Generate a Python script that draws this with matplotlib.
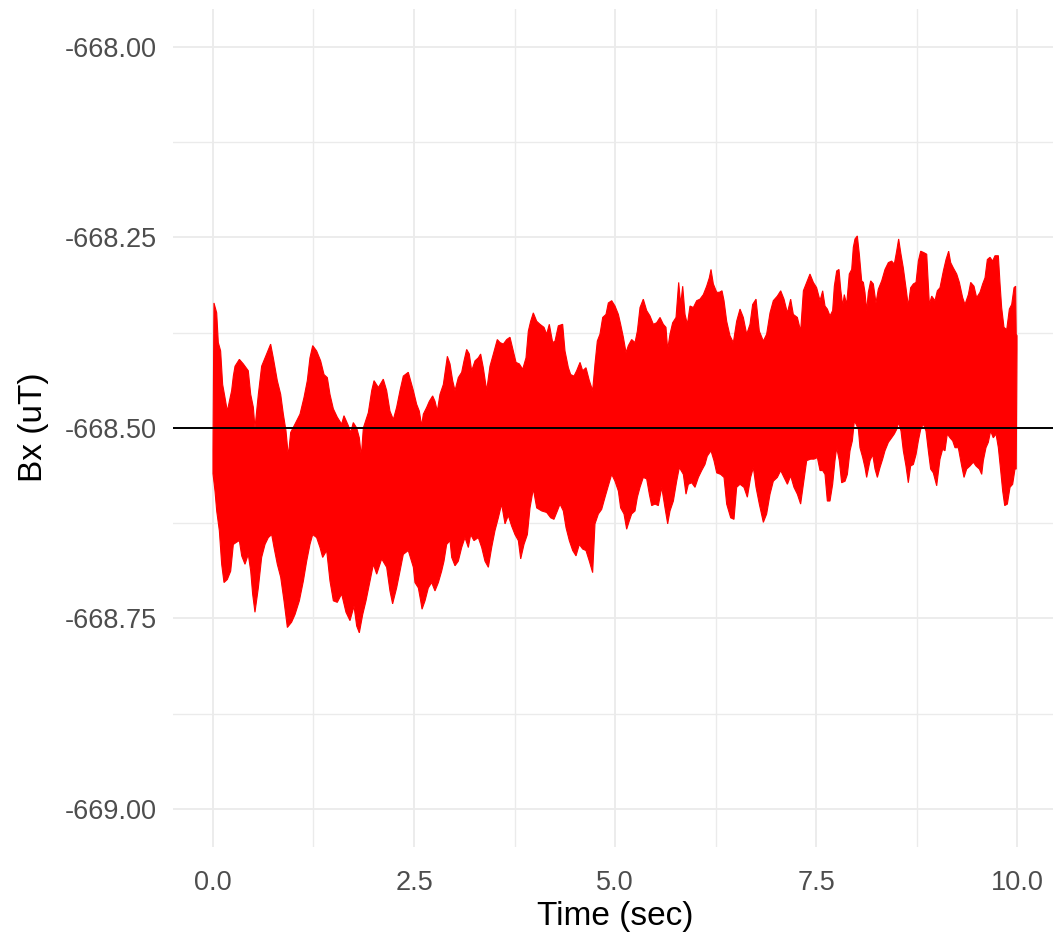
"""
plot.py
-------
Bx magnetometer trace over a 10 s window, drawn as the band between the
upper and lower envelope of the (dense) signal, with the -668.50 uT
reference level on top. ggplot2 theme_minimal look.
"""

import matplotlib
matplotlib.use("Agg")
import matplotlib.pyplot as plt
from matplotlib.ticker import FormatStrFormatter

UPPER_ENVELOPE = [
    (0.000, -668.530), (0.012, -668.336), (0.046, -668.349), (0.066, -668.388),
    (0.095, -668.399), (0.120, -668.443), (0.149, -668.460), (0.178, -668.478),
    (0.232, -668.451), (0.253, -668.432), (0.274, -668.419), (0.328, -668.410),
    (0.377, -668.416), (0.439, -668.425), (0.469, -668.456), (0.502, -668.473),
    (0.522, -668.500), (0.564, -668.456), (0.605, -668.419), (0.667, -668.403),
    (0.717, -668.390), (0.750, -668.408), (0.800, -668.438), (0.842, -668.456),
    (0.875, -668.482), (0.908, -668.504), (0.937, -668.537), (0.966, -668.506),
    (1.020, -668.495), (1.082, -668.482), (1.132, -668.460), (1.173, -668.438),
    (1.206, -668.408), (1.240, -668.392), (1.289, -668.399), (1.339, -668.412),
    (1.381, -668.430), (1.422, -668.434), (1.455, -668.456), (1.497, -668.475),
    (1.546, -668.486), (1.600, -668.495), (1.629, -668.484), (1.683, -668.497),
    (1.712, -668.506), (1.745, -668.493), (1.787, -668.500), (1.820, -668.513),
    (1.845, -668.537), (1.870, -668.500), (1.932, -668.480), (1.974, -668.451),
    (2.003, -668.438), (2.057, -668.447), (2.118, -668.436), (2.160, -668.451),
    (2.201, -668.478), (2.243, -668.489), (2.284, -668.473), (2.326, -668.451),
    (2.367, -668.432), (2.429, -668.427), (2.492, -668.451), (2.533, -668.469),
    (2.566, -668.478), (2.595, -668.497), (2.616, -668.482), (2.658, -668.473),
    (2.691, -668.465), (2.732, -668.458), (2.761, -668.465), (2.790, -668.478),
    (2.823, -668.456), (2.865, -668.443), (2.915, -668.406), (2.948, -668.416),
    (2.981, -668.438), (3.010, -668.451), (3.051, -668.434), (3.093, -668.427),
    (3.122, -668.412), (3.155, -668.397), (3.188, -668.403), (3.217, -668.425),
    (3.259, -668.412), (3.300, -668.408), (3.329, -668.403), (3.362, -668.421),
    (3.404, -668.451), (3.445, -668.419), (3.487, -668.403), (3.536, -668.384),
    (3.570, -668.388), (3.611, -668.390), (3.653, -668.384), (3.694, -668.381),
    (3.735, -668.399), (3.769, -668.414), (3.810, -668.416), (3.852, -668.423),
    (3.893, -668.408), (3.922, -668.373), (3.951, -668.360), (3.984, -668.349),
    (4.026, -668.360), (4.067, -668.364), (4.117, -668.368), (4.150, -668.377),
    (4.183, -668.364), (4.225, -668.388), (4.254, -668.386), (4.295, -668.366),
    (4.349, -668.364), (4.378, -668.399), (4.420, -668.421), (4.449, -668.430),
    (4.490, -668.432), (4.523, -668.425), (4.565, -668.414), (4.598, -668.425),
    (4.639, -668.421), (4.681, -668.438), (4.722, -668.451), (4.751, -668.416),
    (4.780, -668.386), (4.813, -668.377), (4.847, -668.355), (4.888, -668.351),
    (4.917, -668.336), (4.959, -668.333), (5.000, -668.340), (5.042, -668.351),
    (5.070, -668.364), (5.104, -668.381), (5.137, -668.401), (5.166, -668.392),
    (5.207, -668.384), (5.249, -668.388), (5.278, -668.373), (5.311, -668.342),
    (5.352, -668.331), (5.394, -668.346), (5.435, -668.353), (5.477, -668.364),
    (5.518, -668.362), (5.560, -668.355), (5.601, -668.364), (5.634, -668.368),
    (5.655, -668.397), (5.684, -668.377), (5.717, -668.362), (5.759, -668.355),
    (5.792, -668.309), (5.817, -668.338), (5.842, -668.314), (5.871, -668.351),
    (5.900, -668.364), (5.933, -668.340), (5.974, -668.342), (6.016, -668.333),
    (6.057, -668.331), (6.099, -668.325), (6.140, -668.314), (6.173, -668.303),
    (6.194, -668.292), (6.223, -668.311), (6.265, -668.322), (6.298, -668.322),
    (6.331, -668.320), (6.356, -668.333), (6.389, -668.360), (6.430, -668.379),
    (6.472, -668.388), (6.513, -668.360), (6.555, -668.344), (6.596, -668.355),
    (6.638, -668.377), (6.679, -668.364), (6.712, -668.338), (6.754, -668.331),
    (6.795, -668.373), (6.845, -668.386), (6.886, -668.377), (6.928, -668.349),
    (6.969, -668.333), (7.019, -668.327), (7.061, -668.320), (7.102, -668.331),
    (7.144, -668.349), (7.185, -668.331), (7.218, -668.351), (7.268, -668.355),
    (7.309, -668.373), (7.343, -668.320), (7.384, -668.309), (7.425, -668.298),
    (7.467, -668.309), (7.508, -668.316), (7.550, -668.333), (7.583, -668.320),
    (7.612, -668.340), (7.641, -668.344), (7.674, -668.353), (7.707, -668.346),
    (7.728, -668.314), (7.757, -668.294), (7.786, -668.292), (7.807, -668.318),
    (7.832, -668.340), (7.852, -668.325), (7.881, -668.338), (7.914, -668.298),
    (7.944, -668.292), (7.964, -668.263), (7.985, -668.252), (8.014, -668.248),
    (8.039, -668.272), (8.068, -668.307), (8.089, -668.309), (8.109, -668.322),
    (8.130, -668.346), (8.151, -668.322), (8.180, -668.307), (8.213, -668.311),
    (8.246, -668.336), (8.275, -668.318), (8.317, -668.307), (8.358, -668.292),
    (8.400, -668.283), (8.441, -668.281), (8.474, -668.285), (8.503, -668.268),
    (8.528, -668.252), (8.557, -668.272), (8.586, -668.290), (8.619, -668.316),
    (8.648, -668.340), (8.677, -668.316), (8.711, -668.311), (8.744, -668.309),
    (8.773, -668.281), (8.802, -668.268), (8.843, -668.270), (8.877, -668.272),
    (8.910, -668.338), (8.939, -668.327), (8.980, -668.333), (9.009, -668.320),
    (9.042, -668.316), (9.084, -668.294), (9.117, -668.279), (9.150, -668.268),
    (9.175, -668.283), (9.208, -668.290), (9.250, -668.298), (9.283, -668.309),
    (9.324, -668.329), (9.353, -668.338), (9.395, -668.325), (9.424, -668.309),
    (9.465, -668.314), (9.498, -668.329), (9.540, -668.322), (9.573, -668.311),
    (9.602, -668.303), (9.631, -668.279), (9.664, -668.276), (9.697, -668.281),
    (9.726, -668.274), (9.768, -668.274), (9.789, -668.311), (9.809, -668.342),
    (9.838, -668.368), (9.872, -668.371), (9.905, -668.344), (9.934, -668.338),
    (9.963, -668.316), (9.983, -668.314), (9.990, -668.377), (10.000, -668.379),
]

LOWER_ENVELOPE = [
    (0.000, -668.560), (0.025, -668.583), (0.046, -668.609), (0.079, -668.635),
    (0.108, -668.679), (0.137, -668.703), (0.178, -668.699), (0.220, -668.688),
    (0.253, -668.653), (0.294, -668.650), (0.328, -668.648), (0.357, -668.668),
    (0.398, -668.679), (0.439, -668.666), (0.469, -668.688), (0.493, -668.718),
    (0.522, -668.742), (0.564, -668.710), (0.605, -668.670), (0.647, -668.653),
    (0.688, -668.644), (0.730, -668.640), (0.759, -668.657), (0.800, -668.679),
    (0.842, -668.696), (0.883, -668.727), (0.925, -668.762), (0.978, -668.755),
    (1.020, -668.745), (1.074, -668.727), (1.124, -668.701), (1.165, -668.675),
    (1.206, -668.653), (1.240, -668.640), (1.289, -668.644), (1.331, -668.657),
    (1.364, -668.670), (1.414, -668.661), (1.455, -668.701), (1.497, -668.727),
    (1.546, -668.729), (1.600, -668.718), (1.654, -668.742), (1.704, -668.753),
    (1.754, -668.734), (1.787, -668.760), (1.820, -668.769), (1.862, -668.745),
    (1.903, -668.727), (1.953, -668.701), (1.995, -668.679), (2.036, -668.692),
    (2.098, -668.672), (2.160, -668.683), (2.201, -668.714), (2.234, -668.731),
    (2.284, -668.710), (2.326, -668.688), (2.367, -668.666), (2.429, -668.661),
    (2.492, -668.683), (2.512, -668.703), (2.554, -668.710), (2.583, -668.727),
    (2.600, -668.738), (2.637, -668.727), (2.678, -668.710), (2.720, -668.703),
    (2.761, -668.714), (2.803, -668.703), (2.844, -668.688), (2.873, -668.675),
    (2.906, -668.653), (2.948, -668.648), (2.969, -668.670), (3.010, -668.681),
    (3.051, -668.675), (3.093, -668.657), (3.134, -668.644), (3.176, -668.657),
    (3.205, -668.640), (3.246, -668.648), (3.300, -668.644), (3.342, -668.657),
    (3.383, -668.675), (3.425, -668.683), (3.466, -668.657), (3.507, -668.635),
    (3.549, -668.618), (3.590, -668.600), (3.632, -668.626), (3.673, -668.615),
    (3.715, -668.629), (3.756, -668.640), (3.798, -668.648), (3.827, -668.672),
    (3.868, -668.653), (3.910, -668.640), (3.943, -668.605), (3.984, -668.580),
    (4.026, -668.605), (4.088, -668.609), (4.150, -668.611), (4.200, -668.618),
    (4.241, -668.620), (4.283, -668.609), (4.316, -668.600), (4.357, -668.609),
    (4.391, -668.631), (4.432, -668.648), (4.474, -668.661), (4.515, -668.668),
    (4.556, -668.653), (4.598, -668.659), (4.639, -668.661), (4.681, -668.675),
    (4.722, -668.690), (4.751, -668.626), (4.793, -668.613), (4.834, -668.607),
    (4.876, -668.591), (4.917, -668.576), (4.959, -668.561), (5.000, -668.570),
    (5.042, -668.583), (5.070, -668.605), (5.112, -668.613), (5.145, -668.633),
    (5.178, -668.622), (5.207, -668.613), (5.249, -668.609), (5.278, -668.591),
    (5.311, -668.578), (5.352, -668.565), (5.394, -668.567), (5.427, -668.587),
    (5.456, -668.602), (5.498, -668.600), (5.539, -668.602), (5.581, -668.578),
    (5.622, -668.605), (5.655, -668.626), (5.684, -668.609), (5.726, -668.596),
    (5.767, -668.570), (5.800, -668.552), (5.850, -668.561), (5.883, -668.587),
    (5.912, -668.574), (5.954, -668.572), (5.995, -668.578), (6.037, -668.565),
    (6.078, -668.556), (6.119, -668.548), (6.148, -668.537), (6.194, -668.530),
    (6.231, -668.543), (6.265, -668.559), (6.314, -668.561), (6.356, -668.565),
    (6.389, -668.600), (6.439, -668.618), (6.480, -668.620), (6.513, -668.578),
    (6.555, -668.574), (6.604, -668.578), (6.646, -668.591), (6.687, -668.565),
    (6.721, -668.552), (6.754, -668.578), (6.795, -668.600), (6.845, -668.624),
    (6.886, -668.613), (6.928, -668.587), (6.969, -668.570), (7.019, -668.565),
    (7.061, -668.556), (7.102, -668.565), (7.144, -668.574), (7.185, -668.563),
    (7.226, -668.578), (7.268, -668.587), (7.309, -668.600), (7.343, -668.574),
    (7.384, -668.543), (7.434, -668.541), (7.475, -668.541), (7.517, -668.539),
    (7.550, -668.556), (7.583, -668.556), (7.612, -668.561), (7.641, -668.596),
    (7.674, -668.596), (7.707, -668.574), (7.736, -668.543), (7.757, -668.526),
    (7.790, -668.543), (7.819, -668.572), (7.861, -668.570), (7.890, -668.561),
    (7.923, -668.530), (7.952, -668.517), (7.977, -668.491), (7.998, -668.495),
    (8.027, -668.502), (8.047, -668.526), (8.081, -668.539), (8.109, -668.552),
    (8.130, -668.565), (8.172, -668.543), (8.205, -668.535), (8.234, -668.554),
    (8.263, -668.565), (8.296, -668.552), (8.329, -668.541), (8.358, -668.530),
    (8.400, -668.519), (8.441, -668.513), (8.474, -668.508), (8.503, -668.502),
    (8.528, -668.493), (8.557, -668.504), (8.586, -668.530), (8.619, -668.550),
    (8.648, -668.572), (8.677, -668.550), (8.711, -668.548), (8.744, -668.535),
    (8.773, -668.517), (8.802, -668.502), (8.835, -668.495), (8.868, -668.504),
    (8.897, -668.530), (8.926, -668.554), (8.959, -668.559), (9.001, -668.576),
    (9.042, -668.541), (9.075, -668.528), (9.104, -668.530), (9.133, -668.508),
    (9.167, -668.513), (9.200, -668.517), (9.229, -668.526), (9.270, -668.526),
    (9.312, -668.550), (9.341, -668.565), (9.374, -668.554), (9.415, -668.550),
    (9.457, -668.545), (9.490, -668.550), (9.532, -668.554), (9.561, -668.561),
    (9.581, -668.543), (9.614, -668.526), (9.643, -668.519), (9.672, -668.504),
    (9.705, -668.513), (9.739, -668.508), (9.768, -668.526), (9.797, -668.556),
    (9.822, -668.583), (9.847, -668.602), (9.880, -668.600), (9.913, -668.578),
    (9.946, -668.574), (9.975, -668.554), (9.990, -668.554), (10.000, -668.397),
]

REFERENCE_LEVEL = -668.50

X_MAJOR = [0.0, 2.5, 5.0, 7.5, 10.0]
X_MINOR = [1.25, 3.75, 6.25, 8.75]
Y_MAJOR = [-669.00, -668.75, -668.50, -668.25, -668.00]
Y_MINOR = [-668.875, -668.625, -668.375, -668.125]

GRID = "#EBEBEB"
TICK_TEXT = "#4D4D4D"


def main():
    plt.rcParams["font.family"] = ["Liberation Sans", "DejaVu Sans"]

    fig = plt.figure(figsize=(10.53, 9.39), dpi=100)
    # panel runs a touch past the right edge of the canvas, as in the original
    ax = fig.add_axes([0.1641, 0.0981, 0.8399, 0.8924])

    up_t = [p[0] for p in UPPER_ENVELOPE]
    up_v = [p[1] for p in UPPER_ENVELOPE]
    lo_t = [p[0] for p in LOWER_ENVELOPE]
    lo_v = [p[1] for p in LOWER_ENVELOPE]

    # closed band: top edge left->right, bottom edge right->left
    ax.fill(up_t + lo_t[::-1], up_v + lo_v[::-1],
            facecolor="#FF0000", edgecolor="#FF0000", linewidth=0.8, zorder=2)
    ax.axhline(REFERENCE_LEVEL, color="black", linewidth=1.4, zorder=3)

    # ggplot default 5% expansion around 0..10 and -669..-668
    ax.set_xlim(-0.5, 10.5)
    ax.set_ylim(-669.05, -667.95)

    ax.set_xticks(X_MAJOR)
    ax.set_xticks(X_MINOR, minor=True)
    ax.set_yticks(Y_MAJOR)
    ax.set_yticks(Y_MINOR, minor=True)
    ax.xaxis.set_major_formatter(FormatStrFormatter("%.1f"))
    ax.yaxis.set_major_formatter(FormatStrFormatter("%.2f"))

    ax.grid(which="major", color=GRID, linewidth=1.3, zorder=0)
    ax.grid(which="minor", color=GRID, linewidth=1.0, zorder=0)
    ax.set_axisbelow(True)

    for side in ("top", "right", "bottom", "left"):
        ax.spines[side].set_visible(False)
    ax.tick_params(axis="both", which="both", length=0, labelsize=19.5,
                   labelcolor=TICK_TEXT)
    ax.tick_params(axis="x", pad=17)
    ax.tick_params(axis="y", pad=11.5)

    ax.set_xlabel("Time (sec)", fontsize=24, color="black")
    ax.set_ylabel("Bx (uT)", fontsize=24, color="black")
    # titles centred on the panel, like ggplot
    ax.xaxis.set_label_coords(0.5, -0.064)
    ax.yaxis.set_label_coords(-0.1396, 0.501)

    fig.savefig("out.png", dpi=100)
    plt.close(fig)


if __name__ == "__main__":
    main()
